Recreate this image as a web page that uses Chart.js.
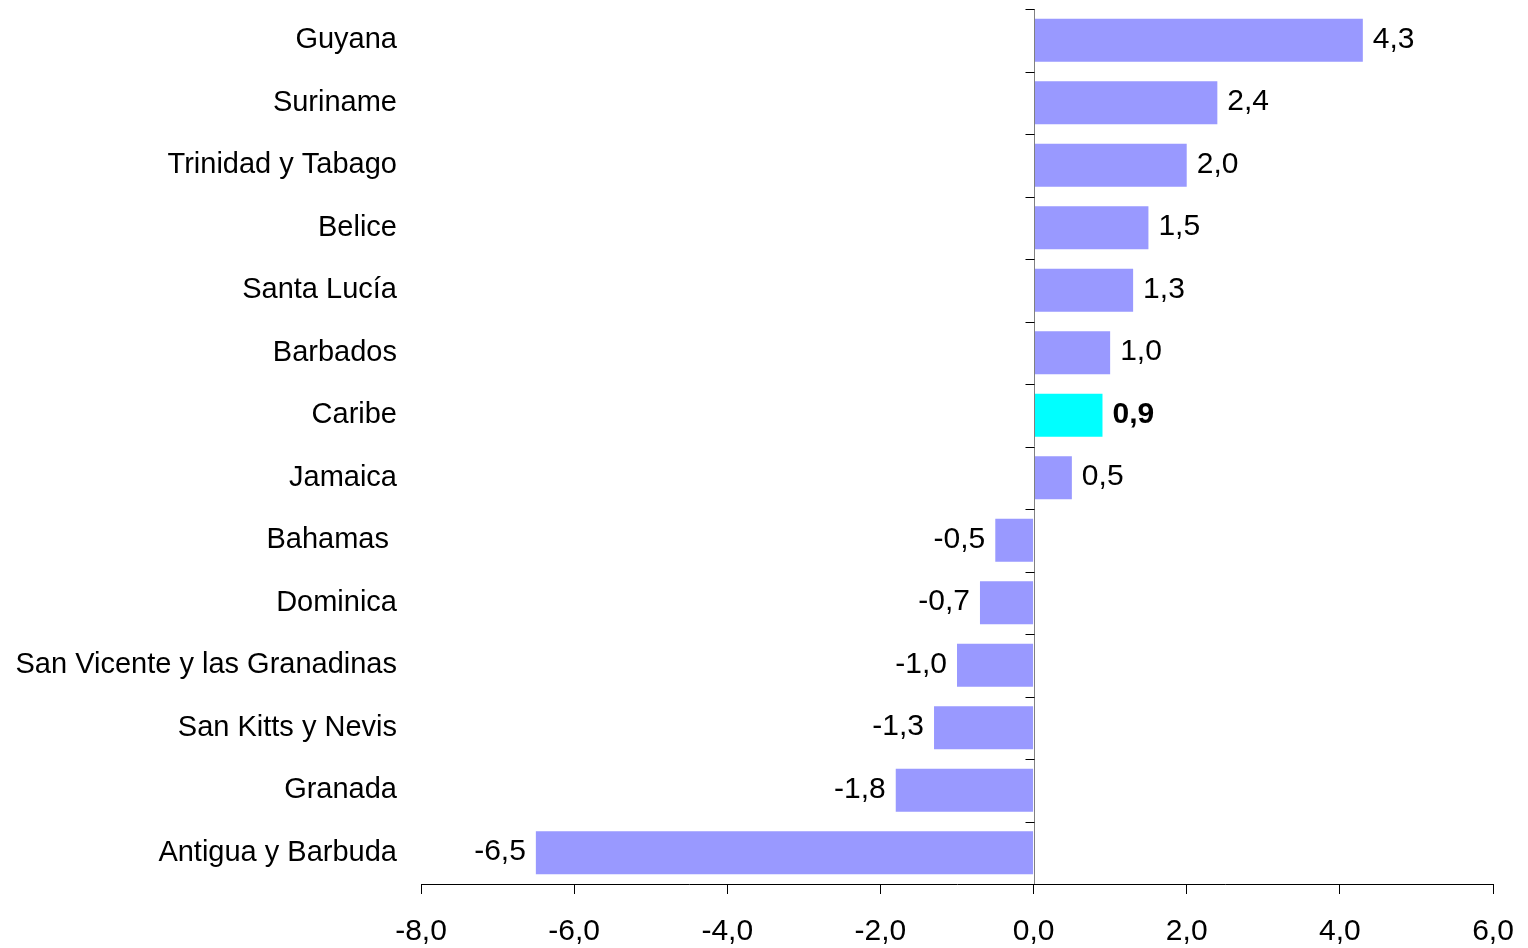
<!DOCTYPE html>
<html>
<head>
<meta charset="utf-8">
<script src="https://cdn.jsdelivr.net/npm/chart.js@4"></script>
<style>
  html, body { margin: 0; padding: 0; background: #fff; }
  #wrap { width: 1528px; height: 948px; }
</style>
</head>
<body>
<div id="wrap"><canvas id="grafico"></canvas></div>
<script>
// datos
const paises = ["Guyana", "Suriname", "Trinidad y Tabago", "Belice", "Santa Lucía", "Barbados", "Caribe",
  "Jamaica", "Bahamas ", "Dominica", "San Vicente y las Granadinas", "San Kitts y Nevis", "Granada", "Antigua y Barbuda"];
const valores = [4.3, 2.4, 2.0, 1.5, 1.3, 1.0, 0.9, 0.5, -0.5, -0.7, -1.0, -1.3, -1.8, -6.5];
const destacado = "Caribe";
const ticksX = [-8, -6, -4, -2, 0, 2, 4, 6];

const fuente = "'Liberation Sans', Arial, sans-serif";
const colores = paises.map(p => p === destacado ? "#00FFFF" : "#9999FF");

function coma(v) {
  return v.toFixed(1).replace(".", ",");
}

// linea del cero con marcas entre categorias
const lineaCero = {
  id: "lineaCero",
  afterDatasetsDraw(chart) {
    const ctx = chart.ctx;
    const x = chart.scales.x;
    const y = chart.scales.y;
    const x0 = Math.round(x.getPixelForValue(0)) + 0.5;
    const paso = (y.getPixelForValue(1) - y.getPixelForValue(0));
    ctx.save();
    ctx.strokeStyle = "#808080";
    ctx.lineWidth = 1;
    ctx.beginPath();
    ctx.moveTo(x0, chart.chartArea.top);
    ctx.lineTo(x0, chart.chartArea.bottom);
    ctx.stroke();
    ctx.strokeStyle = "#000";
    for (let i = 0; i <= paises.length; i++) {
      const py = Math.round(y.getPixelForValue(i) - paso / 2) + 0.5;
      ctx.beginPath();
      ctx.moveTo(x0 - 9, py);
      ctx.lineTo(x0, py);
      ctx.stroke();
    }
    ctx.restore();
  }
};

// etiquetas de valores
const etiquetas = {
  id: "etiquetas",
  afterDatasetsDraw(chart) {
    const ctx = chart.ctx;
    const meta = chart.getDatasetMeta(0);
    ctx.save();
    ctx.fillStyle = "#000";
    ctx.textBaseline = "middle";
    meta.data.forEach((bar, i) => {
      const v = valores[i];
      ctx.font = (paises[i] === destacado ? "bold " : "") + "30px " + fuente;
      if (v >= 0) {
        ctx.textAlign = "left";
        ctx.fillText(coma(v), bar.x + 10, bar.y - 1);
      } else {
        ctx.textAlign = "right";
        ctx.fillText(coma(v), bar.x - 10, bar.y - 1);
      }
    });
    ctx.restore();
  }
};

new Chart(document.getElementById("grafico"), {
  type: "bar",
  data: {
    labels: paises,
    datasets: [{
      data: valores,
      backgroundColor: colores,
      borderWidth: 0,
      barPercentage: 0.69,
      categoryPercentage: 1
    }]
  },
  options: {
    indexAxis: "y",
    responsive: true,
    maintainAspectRatio: false,
    animation: false,
    layout: { padding: { top: 9, right: 35, left: 0, bottom: 0 } },
    plugins: {
      legend: { display: false },
      tooltip: { enabled: false }
    },
    scales: {
      x: {
        min: -8,
        max: 6,
        afterBuildTicks(scale) {
          scale.ticks = ticksX.map(v => ({ value: v }));
        },
        afterFit(scale) {
          scale.height = 64;
          scale.paddingLeft = 0;
          scale.paddingRight = 0;
        },
        grid: { drawOnChartArea: false, drawTicks: true, tickLength: 10, color: "#000" },
        border: { display: true, color: "#000", width: 1 },
        ticks: {
          color: "#000",
          font: { family: fuente, size: 30 },
          padding: 20,
          maxRotation: 0,
          callback: v => coma(v)
        }
      },
      y: {
        afterFit(scale) {
          scale.width = 421;
          scale.paddingTop = 0;
          scale.paddingBottom = 0;
        },
        grid: { display: false, drawTicks: false },
        border: { display: false },
        ticks: {
          color: "#000",
          font: { family: fuente, size: 29 },
          padding: 24
        }
      }
    }
  },
  plugins: [lineaCero, etiquetas]
});
</script>
</body>
</html>
